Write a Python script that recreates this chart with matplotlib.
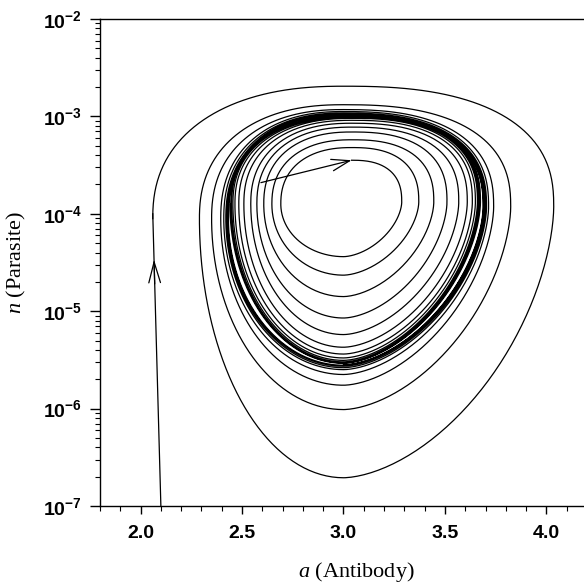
import numpy as np
import matplotlib
matplotlib.use('Agg')
import matplotlib.pyplot as plt
from matplotlib.ticker import MultipleLocator, LogLocator, FuncFormatter, NullFormatter

plt.rcParams['font.family'] = ['Liberation Sans', 'DejaVu Sans']
plt.rcParams['mathtext.fontset'] = 'custom'
plt.rcParams['mathtext.bf'] = 'Liberation Sans:bold'
plt.rcParams['mathtext.it'] = 'Liberation Serif:italic'
plt.rcParams['mathtext.rm'] = 'Liberation Serif'

# ---- data (a = antibody, log10 n = parasite) ----
# outer trajectory: comes in from below, then spirals inward (one value per turn)
out_entry_a = [2.10, 2.06]
out_entry_logn = [-7.0, -4.0]
out_left_a = [2.06, 2.29, 2.35, 2.395, 2.41, 2.42, 2.425, 2.43, 2.433]
out_top_logn = [-2.69, -2.88, -2.93, -2.95, -2.965, -2.975, -2.98, -2.985, -2.988]
out_right_a = [4.036, 3.824, 3.74, 3.715, 3.705, 3.70, 3.695, 3.69, 3.688]
out_bottom_logn = [-6.71, -6.01, -5.76, -5.65, -5.60, -5.58, -5.565, -5.555, -5.55]
out_side_logn = (-4.05, -3.93)      # level of left / right extreme
out_mid_a = (3.0, 3.0)              # a at top / bottom extreme

# inner trajectory: starts inside the cycle and spirals outward
in_start_a, in_start_logn = 2.593, -3.68
in_top_logn = [-3.45, -3.32, -3.24, -3.16, -3.11, -3.07, -3.04, -3.02, -3.01, -3.0, -2.995, -2.992]
in_right_a = [3.287, 3.371, 3.445, 3.51, 3.568, 3.61, 3.635, 3.65, 3.66, 3.665, 3.67, 3.675]
in_bottom_logn = [-4.44, -4.63, -4.85, -5.07, -5.24, -5.37, -5.44, -5.48, -5.505, -5.52, -5.53, -5.535]
in_left_a = [2.691, 2.647, 2.607, 2.573, 2.543, 2.509, 2.484, 2.465, 2.455, 2.448, 2.445, 2.44]
in_side_logn = (-3.9, -3.88)
in_mid_a = (3.04, 3.0)

# entry arrow position (log10 n of the tip)
entry_arrow_logn = -4.47

# shape of each quarter turn (superellipse exponent)
quarter_exp = {'TR': 2.5, 'RB': 1.7, 'BL': 2.0, 'LT': 2.3}


def quarter(p, q, kp, kq, m=80):
    phi = np.linspace(0, np.pi / 2, m)
    ne = quarter_exp[kp + kq]
    s = np.sin(phi) ** (2 / ne)
    c = np.cos(phi) ** (2 / ne)
    if kp in 'TB':
        x = p[0] + (q[0] - p[0]) * s
        y = q[1] + (p[1] - q[1]) * c
    else:
        x = q[0] + (p[0] - q[0]) * c
        y = p[1] + (q[1] - p[1]) * s
    return x, y


def turn_points(order, left, top, right, bottom, side, mid):
    pts = []
    for i in range(len(left)):
        d = {'L': (left[i], side[0]), 'T': (mid[0], top[i]),
             'R': (right[i], side[1]), 'B': (mid[1], bottom[i])}
        for k in order:
            pts.append((k, d[k]))
    return pts


def trace(pts):
    xs, ys = [], []
    for (kp, p), (kq, q) in zip(pts[:-1], pts[1:]):
        x, y = quarter(p, q, kp, kq)
        xs.append(x)
        ys.append(y)
    return np.concatenate(xs), np.concatenate(ys)


fig = plt.figure(figsize=(5.84, 5.86), dpi=100)
ax = fig.add_axes([100 / 584, 80 / 586, 487 / 584, 487 / 586])

lc = 'black'
lw = 0.9

# outer trajectory
ax.plot(out_entry_a, 10 ** np.array(out_entry_logn), color=lc, lw=lw)
pts = turn_points('LTRB', out_left_a, out_top_logn, out_right_a, out_bottom_logn,
                  out_side_logn, out_mid_a)
x, y = trace(pts)
ax.plot(x, 10 ** y, color=lc, lw=lw)

# inner trajectory
pts = turn_points('TRBL', in_left_a, in_top_logn, in_right_a, in_bottom_logn,
                  in_side_logn, in_mid_a)
x, y = trace(pts)
ax.plot(x, 10 ** y, color=lc, lw=lw)

# arrows
frac = (entry_arrow_logn - out_entry_logn[0]) / (out_entry_logn[1] - out_entry_logn[0])
tip_a = out_entry_a[0] + frac * (out_entry_a[1] - out_entry_a[0])
base_a = out_entry_a[0] + (frac - 0.08) * (out_entry_a[1] - out_entry_a[0])
ax.annotate('', xy=(tip_a, 10 ** entry_arrow_logn), xytext=(base_a, 10 ** (entry_arrow_logn - 0.25)),
            arrowprops=dict(arrowstyle='->,head_length=1.5,head_width=0.42', color=lc, lw=lw,
                            shrinkA=0, shrinkB=0))
ax.annotate('', xy=(in_mid_a[0], 10 ** in_top_logn[0]), xytext=(in_start_a, 10 ** in_start_logn),
            arrowprops=dict(arrowstyle='->,head_length=1.3,head_width=0.42', color=lc, lw=lw,
                            shrinkA=0, shrinkB=0))

ax.set_yscale('log')
ax.set_xlim(1.8, 4.2)
ax.set_ylim(1e-7, 1e-2)

ax.xaxis.set_major_locator(MultipleLocator(0.5))
ax.xaxis.set_minor_locator(MultipleLocator(0.1))
ax.xaxis.set_major_formatter(FuncFormatter(lambda v, p: '%.1f' % v))
ax.yaxis.set_major_locator(LogLocator(base=10, numticks=10))
ax.yaxis.set_minor_locator(LogLocator(base=10, subs=np.arange(2, 10), numticks=20))
ax.yaxis.set_major_formatter(FuncFormatter(lambda v, p: r'$\mathbf{10^{%d}}$' % round(np.log10(v))))
ax.yaxis.set_minor_formatter(NullFormatter())

ax.tick_params(axis='x', which='major', direction='out', length=6, width=1, pad=8, labelsize=14)
ax.tick_params(axis='y', which='major', direction='out', length=7, width=1, pad=6, labelsize=14)
ax.tick_params(which='minor', direction='out', length=3.5, width=0.8)
ax.tick_params(top=False, right=False, which='both')
for lab in ax.get_xticklabels():
    lab.set_fontweight('bold')

for sp in ax.spines.values():
    sp.set_linewidth(1.0)

ax.set_xlabel(r'$\mathit{a}$ (Antibody)', family='Liberation Serif', fontsize=16)
ax.set_ylabel(r'$\mathit{n}$ (Parasite)', family='Liberation Serif', fontsize=16)
ax.xaxis.set_label_coords(0.526, -0.11)
ax.yaxis.set_label_coords(-0.148, 0.5)

fig.savefig('out.png', dpi=100)
